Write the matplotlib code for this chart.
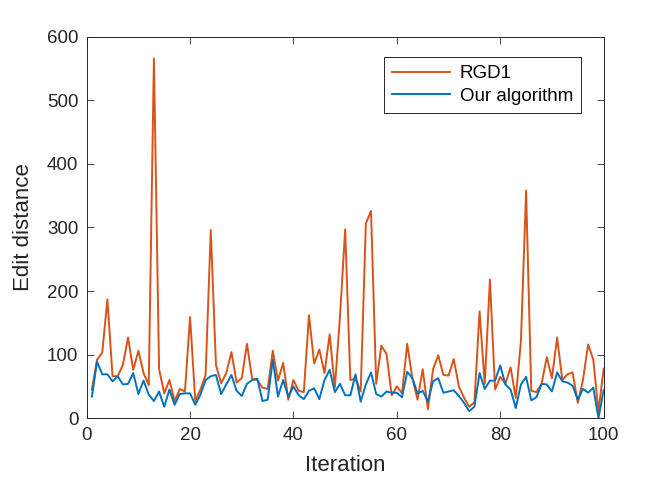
import matplotlib.pyplot as plt
import numpy as np

# iteration index
iterations = np.arange(1, 101)

# RGD1 edit distance per iteration
rgd1 = [45, 92, 103, 187, 66, 66, 84, 127, 76, 106,
        71, 52, 566, 77, 39, 60, 27, 46, 42, 159,
        27, 45, 68, 296, 84, 55, 71, 104, 56, 63,
        117, 62, 60, 48, 46, 106, 59, 87, 29, 60,
        43, 41, 162, 86, 108, 71, 132, 48, 160, 297,
        60, 62, 42, 306, 326, 54, 114, 101, 36, 50,
        39, 117, 63, 29, 77, 14, 77, 99, 68, 67,
        93, 50, 32, 18, 25, 168, 54, 218, 45, 65,
        54, 80, 32, 121, 358, 43, 41, 54, 96, 63,
        127, 60, 69, 72, 24, 60, 116, 92, 11, 78]

# our algorithm edit distance per iteration
ours = [34, 89, 69, 69, 58, 66, 53, 54, 71, 38,
        59, 37, 27, 42, 18, 45, 21, 38, 39, 39,
        21, 37, 60, 66, 68, 38, 53, 68, 43, 35,
        54, 60, 62, 27, 29, 92, 34, 60, 34, 50,
        36, 30, 43, 47, 30, 60, 76, 41, 54, 36,
        36, 69, 26, 53, 72, 38, 34, 42, 40, 40,
        33, 73, 63, 39, 43, 26, 58, 63, 40, 42,
        44, 35, 24, 11, 18, 71, 46, 59, 59, 83,
        53, 45, 16, 53, 65, 28, 33, 54, 53, 42,
        72, 58, 56, 51, 29, 46, 40, 48, 0, 44]

plt.rcParams['font.family'] = ['Liberation Sans', 'DejaVu Sans']

fig = plt.figure(figsize=(6.67, 4.84), dpi=100)
ax = fig.add_axes([0.130, 0.136, 0.775, 0.788])

ax.plot(iterations, rgd1, color='#D95319', linewidth=1.4, label='RGD1')
ax.plot(iterations, ours, color='#0072BD', linewidth=1.4, label='Our algorithm')

ax.set_xlim(0, 100)
ax.set_ylim(0, 600)
ax.set_xticks(np.arange(0, 101, 20))
ax.set_yticks(np.arange(0, 601, 100))

ax.set_xlabel('Iteration', fontsize=16, color='#262626', labelpad=8)
ax.set_ylabel('Edit distance', fontsize=16, color='#262626', labelpad=9)

ax.tick_params(direction='in', top=True, right=True, length=5, width=0.6,
               labelsize=13.5, colors='#262626', pad=6)
for sp in ax.spines.values():
    sp.set_color('#262626')
    sp.set_linewidth(0.7)

leg = ax.legend(loc='upper right', bbox_to_anchor=(0.957, 0.948),
                borderaxespad=0, fancybox=False, framealpha=1,
                edgecolor='#262626', fontsize=13.5, handlelength=3.1,
                handletextpad=0.5, borderpad=0.45, labelspacing=0.3)
leg.get_frame().set_linewidth(0.7)

fig.savefig('out.png', dpi=100)
